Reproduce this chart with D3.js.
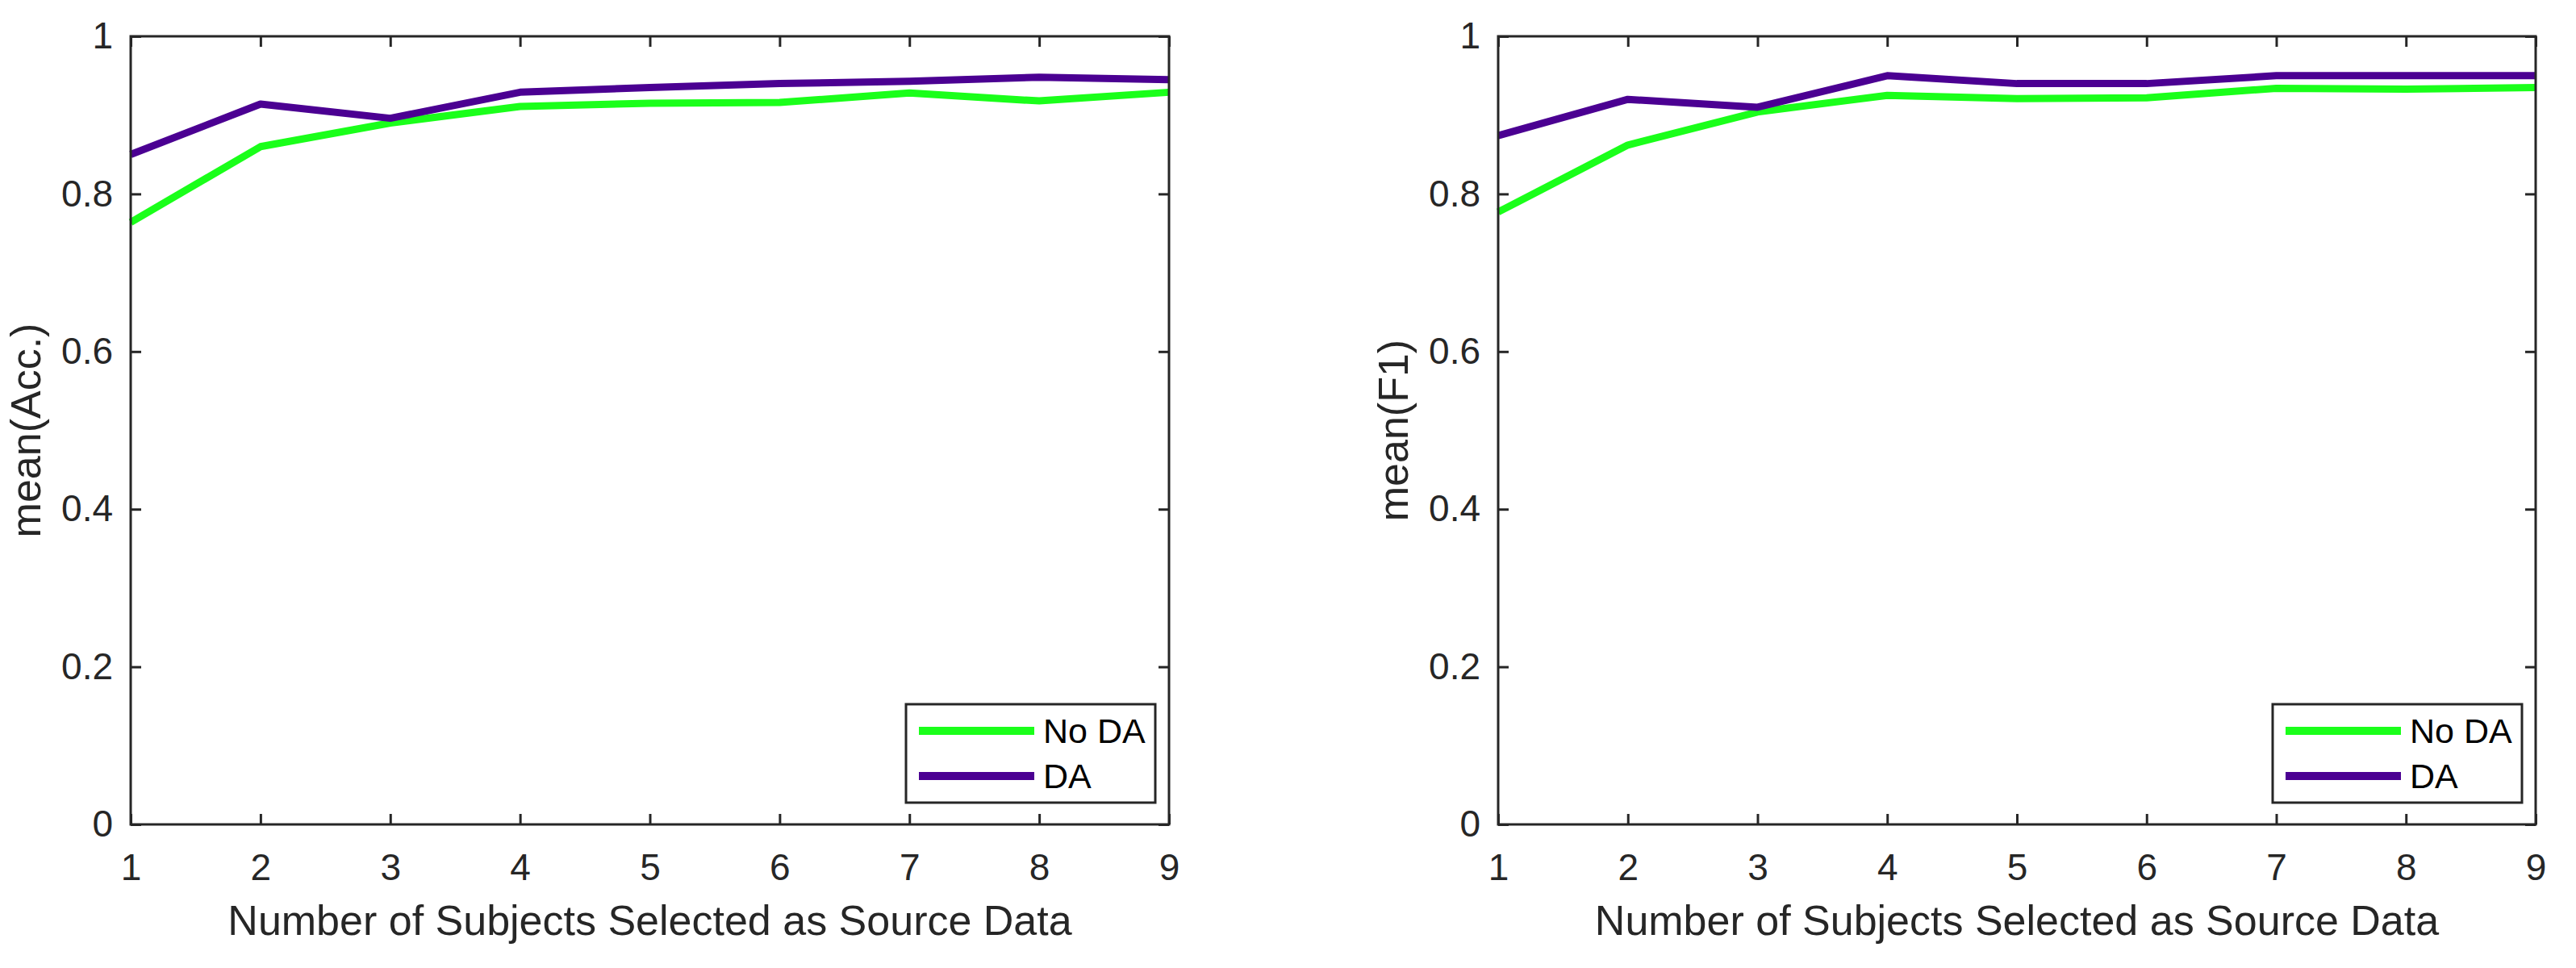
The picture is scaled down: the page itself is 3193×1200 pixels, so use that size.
<!DOCTYPE html>
<html>
<head>
<meta charset="utf-8">
<script src="https://cdn.jsdelivr.net/npm/d3@7"></script>
<style>
  body { margin: 0; background: #fff; }
  svg { display: block; }
</style>
</head>
<body>
<div id="chart"></div>
<script>
// Data
const subjects = [1, 2, 3, 4, 5, 6, 7, 8, 9];
const seriesNames = ["No DA", "DA"];
const seriesColors = ["#1aff1a", "#4b0092"];
const yTicks = [0, 0.2, 0.4, 0.6, 0.8, 1];

const accNoDA = [0.764, 0.860, 0.890, 0.911, 0.915, 0.916, 0.928, 0.918, 0.929];
const accDA   = [0.850, 0.914, 0.896, 0.929, 0.935, 0.940, 0.943, 0.948, 0.945];
const f1NoDA  = [0.777, 0.862, 0.904, 0.925, 0.921, 0.922, 0.934, 0.933, 0.935];
const f1DA    = [0.874, 0.920, 0.910, 0.950, 0.940, 0.940, 0.950, 0.950, 0.950];

const width = 3193;
const height = 1200;
const axisColor = "#262626";
const font = "'Liberation Sans', Arial, Helvetica, sans-serif";

const svg = d3.select("#chart")
    .append("svg")
    .attr("width", width)
    .attr("height", height);

svg.append("rect").attr("width", width).attr("height", height).attr("fill", "#fff");

// Draw one MATLAB-style axes panel
function drawPanel(left, right, yLabel, labelX, noDA, da) {
    const top = 45, bottom = 1022;

    const x = d3.scaleLinear().domain([1, 9]).range([left, right]);
    const y = d3.scaleLinear().domain([0, 1]).range([bottom, top]);

    const g = svg.append("g");

    // lines
    const line = d3.line()
        .x((d, i) => x(subjects[i]))
        .y(d => y(d));

    [noDA, da].forEach((vals, i) => {
        g.append("path")
            .datum(vals)
            .attr("d", line)
            .attr("fill", "none")
            .attr("stroke", seriesColors[i])
            .attr("stroke-width", 9)
            .attr("stroke-linejoin", "round");
    });

    // axes, ticks inward on all four sides
    const tickLen = 13;
    const axisStyle = sel => {
        sel.select(".domain").remove();
        sel.selectAll("line").attr("stroke", axisColor).attr("stroke-width", 3);
        sel.selectAll("text")
            .attr("fill", axisColor)
            .style("font-family", font)
            .style("font-size", "46px");
    };

    g.append("g")
        .attr("transform", `translate(0,${bottom})`)
        .call(d3.axisBottom(x).tickValues(subjects).tickSize(-tickLen).tickPadding(36).tickFormat(d3.format("d")))
        .call(axisStyle);

    g.append("g")
        .attr("transform", `translate(0,${top})`)
        .call(d3.axisTop(x).tickValues(subjects).tickSize(-tickLen).tickFormat(""))
        .call(axisStyle);

    g.append("g")
        .attr("transform", `translate(${left},0)`)
        .call(d3.axisLeft(y).tickValues(yTicks).tickSize(-tickLen).tickPadding(22).tickFormat(d => d3.format("")(d)))
        .call(axisStyle);

    g.append("g")
        .attr("transform", `translate(${right},0)`)
        .call(d3.axisRight(y).tickValues(yTicks).tickSize(-tickLen).tickFormat(""))
        .call(axisStyle);

    // box
    g.append("rect")
        .attr("x", left).attr("y", top)
        .attr("width", right - left).attr("height", bottom - top)
        .attr("fill", "none")
        .attr("stroke", axisColor)
        .attr("stroke-width", 3);

    // axis titles
    g.append("text")
        .attr("x", (left + right) / 2)
        .attr("y", 1159)
        .attr("text-anchor", "middle")
        .attr("fill", axisColor)
        .style("font-family", font)
        .style("font-size", "52px")
        .text("Number of Subjects Selected as Source Data");

    g.append("text")
        .attr("transform", `translate(${labelX},${(top + bottom) / 2}) rotate(-90)`)
        .attr("text-anchor", "middle")
        .attr("fill", axisColor)
        .style("font-family", font)
        .style("font-size", "52px")
        .text(yLabel);

    // legend
    const lg = g.append("g").attr("transform", `translate(${right - 326},873)`);
    lg.append("rect")
        .attr("width", 309).attr("height", 122)
        .attr("fill", "#fff")
        .attr("stroke", axisColor)
        .attr("stroke-width", 3);

    seriesNames.forEach((name, i) => {
        const ly = 33 + i * 56;
        lg.append("line")
            .attr("x1", 16).attr("x2", 159)
            .attr("y1", ly).attr("y2", ly)
            .attr("stroke", seriesColors[i])
            .attr("stroke-width", 10);
        lg.append("text")
            .attr("x", 170)
            .attr("y", ly + 15)
            .attr("fill", "#000")
            .style("font-family", font)
            .style("font-size", "43px")
            .text(name);
    });
}

drawPanel(162, 1449, "mean(Acc.)", 50, accNoDA, accDA);
drawPanel(1857, 3143, "mean(F1)", 1745, f1NoDA, f1DA);
</script>
</body>
</html>
